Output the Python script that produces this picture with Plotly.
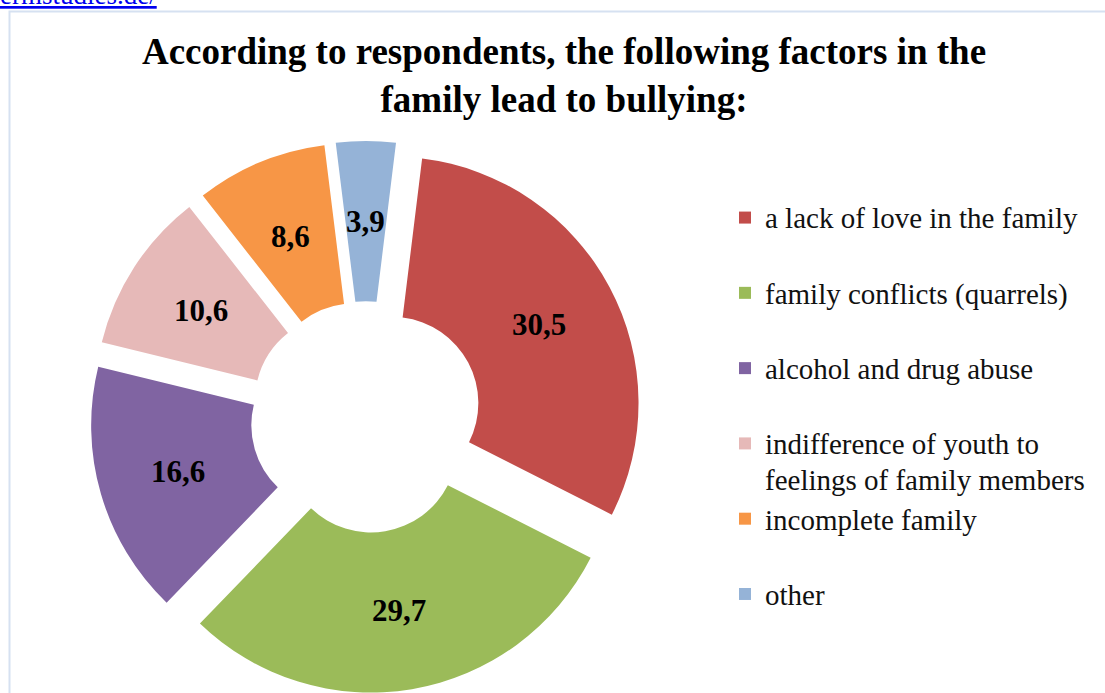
import math
import plotly.graph_objects as go

categories = [
    "a lack of love in the family",
    "family conflicts (quarrels)",
    "alcohol and drug abuse",
    "indifference of youth to<br>feelings of family members",
    "incomplete family",
    "other",
]
values = [30.5, 29.7, 16.6, 10.6, 8.6, 3.9]
colors = ["#c24d4a", "#9bbb59", "#8064a2", "#e6b9b8", "#f79646", "#95b3d7"]

W, H = 1105, 693
SERIF = "Liberation Serif, Times New Roman, serif"

value_text = [f"{v:.1f}".replace(".", ",") for v in values]

def legend_label(lbl):
    inner = lbl if "<br>" in lbl else lbl + "<br>\u00a0"
    parts = inner.split("<br>")
    return "<br>".join(
        f'<span style="font-size:29px;font-family:Liberation Serif,serif">{p}</span>' for p in parts
    )

legend_labels = [legend_label(c) for c in categories]

# pie geometry (pixels)
cx, cy, ext = 366, 417, 276
HOLE, PULL, ROT = 0.35, 0.12, 7

fig = go.Figure(go.Pie(
    labels=legend_labels,
    values=values,
    textinfo="none",
    marker=dict(colors=colors, line=dict(width=0)),
    hole=HOLE,
    pull=[PULL] * len(values),
    sort=False,
    direction="clockwise",
    rotation=ROT,
    domain=dict(x=[(cx - 290) / W, (cx + 290) / W], y=[0, (2 * ext) / H]),
    hovertext=categories,
    hoverinfo="text+value",
))

# value labels placed at the middle of each (pulled) ring segment, derived from the data
total = sum(values)
r = ext / (1 + PULL)
annotations = []
cum = 0.0
for v, t in zip(values, value_text):
    mid = math.radians(ROT + 360 * (cum + v / 2) / total)
    cum += v
    dist = PULL * r + r * (1 + HOLE) / 2
    px = cx + dist * math.sin(mid)
    py = cy - dist * math.cos(mid)
    annotations.append(dict(
        text=f"<b>{t}</b>", x=px / W, y=1 - py / H, xref="paper", yref="paper",
        xanchor="center", yanchor="middle", showarrow=False,
        font=dict(family=SERIF, size=31, color="black"),
    ))

annotations.append(dict(
    text="<span style='text-decoration:underline'>ermstudies.de/</span>",
    xref="paper", yref="paper", x=-2 / W, y=1 - 12 / H,
    xanchor="left", yanchor="bottom", showarrow=False,
    font=dict(family=SERIF, size=27, color="#0000ee"),
))

fig.update_layout(
    width=W, height=H,
    margin=dict(l=0, r=0, t=0, b=0),
    paper_bgcolor="white",
    plot_bgcolor="white",
    font=dict(family=SERIF, color="black"),
    title=dict(
        text="According to respondents, the following factors in the<br>family lead to bullying:",
        x=564 / W, xanchor="center",
        y=1 - 64 / H, yanchor="top",
        font=dict(family=SERIF, size=37, color="black", weight="bold"),
    ),
    legend=dict(
        x=(767 - 42) / W, xanchor="left",
        y=1 - 193 / H, yanchor="top",
        font=dict(family=SERIF, size=27.8, color="#111111"),
        valign="top",
        bgcolor="rgba(0,0,0,0)",
    ),
    shapes=[dict(
        type="rect", xref="paper", yref="paper",
        x0=9.5 / W, x1=1.02, y0=-0.02, y1=1 - 11.5 / H,
        line=dict(color="#d6e1f1", width=2), fillcolor="rgba(0,0,0,0)", layer="below",
    )],
    annotations=annotations,
)

fig.write_html("out.html")
